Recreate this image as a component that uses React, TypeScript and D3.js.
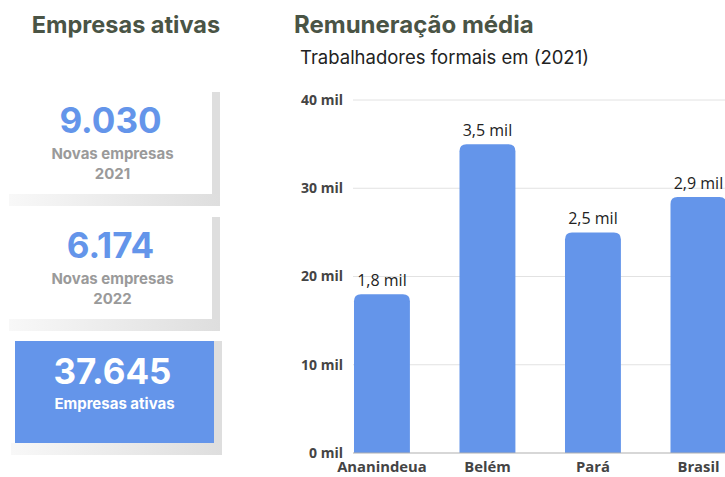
import * as d3 from 'd3';
import type { FC } from 'react';

// dados do gráfico
const categories = ['Ananindeua', 'Belém', 'Pará', 'Brasil'];
const values = [18, 35, 25, 29];
const valueLabels = ['1,8 mil', '3,5 mil', '2,5 mil', '2,9 mil'];
const yTicks = [0, 10, 20, 30, 40];

// cartões à esquerda
const cardNumbers = ['9.030', '6.174', '37.645'];
const cardLines = [['Novas empresas', '2021'], ['Novas empresas', '2022'], ['Empresas ativas']];

const W = 725;
const H = 477;
const blue = '#6495ea';
const titleColor = '#4a5445';

const margin = { top: 100, bottom: 24, left: 353 };

const topRoundedBar = (x: number, y: number, w: number, h: number, r: number) => {
	const rr = Math.min(r, h, w / 2);
	return `M${x},${y + h}V${y + rr}Q${x},${y} ${x + rr},${y}H${x + w - rr}Q${x + w},${y} ${x + w},${y + rr}V${y + h}Z`;
};

const Card: FC<{ i: number; x: number; y: number; highlighted?: boolean }> = ({ i, x, y, highlighted }) => {
	const w = 199;
	const h = 102;
	const cx = x + w / 2;
	return (
		<g>
			{/* sombra à direita e abaixo */}
			<rect x={x + w} y={y} width={8} height={h + 12} fill="#dedede" />
			<rect x={x - 4} y={y + h} width={w + 12} height={12} fill="url(#shadowGrad)" />
			<line x1={x} x2={x + w} y1={y + 0.5} y2={y + 0.5} stroke="#eeeeee" />
			<rect x={x} y={y} width={w} height={h} fill={highlighted ? blue : '#ffffff'} />
			<text
				x={cx - 2}
				y={y + (highlighted ? 43 : 41)}
				textAnchor="middle"
				fontFamily="Inter, 'Open Sans', sans-serif"
				fontWeight={700}
				fontSize={35}
				fill={highlighted ? '#ffffff' : blue}
			>
				{cardNumbers[i]}
			</text>
			{cardLines[i].map((line, j) => (
				<text
					key={j}
					x={cx}
					y={y + (highlighted ? 68 : 67) + j * 20}
					textAnchor="middle"
					fontFamily="Inter, 'Open Sans', sans-serif"
					fontWeight={700}
					fontSize={highlighted ? 15 : 15}
					fill={highlighted ? '#ffffff' : '#9a9a9a'}
				>
					{line}
				</text>
			))}
		</g>
	);
};

export default function App() {
	const scaleX = d3.scaleBand<string>().domain(categories).range([329.2, 751.2]).paddingInner(0.47).paddingOuter(0.235);
	const scaleY = d3.scaleLinear().domain([0, 40]).range([H - margin.bottom, margin.top]);
	const bw = scaleX.bandwidth();

	return (
		<svg width={W} height={H} style={{ position: 'absolute', left: 0, top: 0, background: '#fff' }}>
			<defs>
				<linearGradient id="shadowGrad" x1="0" x2="1" y1="0" y2="0">
					<stop offset="0" stopColor="#f8f8f8" />
					<stop offset="1" stopColor="#dedede" />
				</linearGradient>
			</defs>

			{/* painel esquerdo */}
			<text x={126} y={33} textAnchor="middle" fontFamily="Inter, sans-serif" fontWeight={700} fontSize={23.5} fill={titleColor}>
				Empresas ativas
			</text>
			<Card i={0} x={13} y={92} />
			<Card i={1} x={13} y={217} />
			<Card i={2} x={15} y={341} highlighted />

			{/* painel direito */}
			<text x={294} y={33} fontFamily="Inter, sans-serif" fontWeight={700} fontSize={24} fill={titleColor}>
				Remuneração média
			</text>
			<text x={300} y={64} fontFamily="Inter, sans-serif" fontSize={18.5} fill="#222">
				Trabalhadores formais em (2021)
			</text>

			{yTicks.map((t) => (
				<g key={t}>
					{t > 0 && <line x1={margin.left} x2={W} y1={scaleY(t)} y2={scaleY(t)} stroke="#e2e2e2" strokeWidth={1} />}
					<text
						x={343}
						y={scaleY(t)}
						dy="0.35em"
						textAnchor="end"
						fontFamily="'Open Sans', sans-serif"
						fontWeight={700}
						fontSize={14}
						fill="#444"
					>
						{t} mil
					</text>
				</g>
			))}

			{categories.map((c, i) => {
				const x = scaleX(c)!;
				const y = scaleY(values[i]);
				return (
					<g key={c}>
						<path d={topRoundedBar(x, y, bw, scaleY(0) - y, 7)} fill={blue} />
						<text
							x={x + bw / 2}
							y={y - 8}
							textAnchor="middle"
							fontFamily="'Open Sans', sans-serif"
							fontSize={16}
							fill="#222"
						>
							{valueLabels[i]}
						</text>
						<text
							x={x + bw / 2}
							y={472}
							textAnchor="middle"
							fontFamily="'Open Sans', sans-serif"
							fontWeight={700}
							fontSize={14.8}
							fill="#444"
						>
							{c}
						</text>
					</g>
				);
			})}

			<line x1={margin.left} x2={W} y1={scaleY(0)} y2={scaleY(0)} stroke="#b0b0b0" strokeWidth={1.2} />
		</svg>
	);
}
